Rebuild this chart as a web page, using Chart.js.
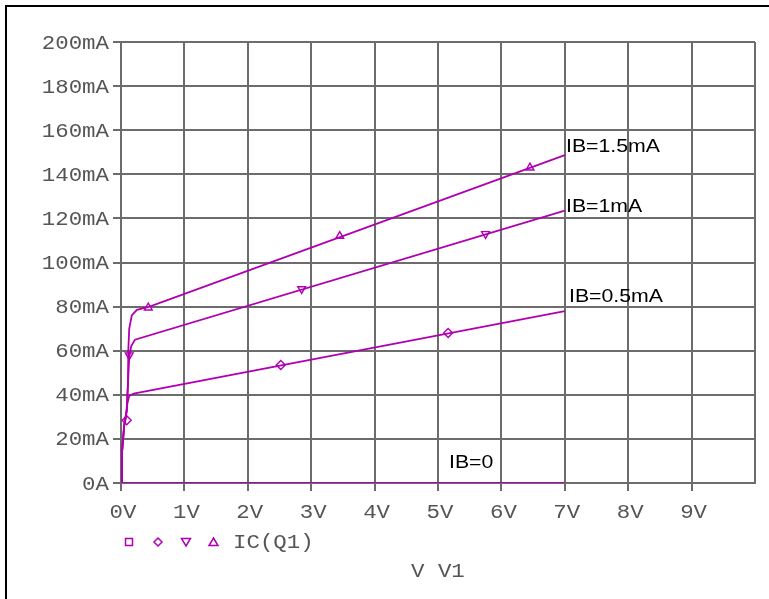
<!DOCTYPE html>
<html>
<head>
<meta charset="utf-8">
<script src="https://cdn.jsdelivr.net/npm/chart.js@4.4.1/dist/chart.umd.min.js"></script>
<style>
  html, body { margin: 0; padding: 0; background: #ffffff; }
  #wrap { position: relative; width: 769px; height: 599px; }
  canvas { display: block; }
</style>
</head>
<body>
<div id="wrap"><canvas id="c" width="769" height="599"></canvas></div>
<script>
// ---- data (volts, mA) ----
const xTickLabels = ['0V','1V','2V','3V','4V','5V','6V','7V','8V','9V'];
const yTickLabels = ['0A','20mA','40mA','60mA','80mA','100mA','120mA','140mA','160mA','180mA','200mA'];

const ib0_V   = [0, 7];
const ib0_I   = [0, 0];

const ib05_V  = [0, 0.015, 0.05, 0.08, 0.1, 0.13, 0.2, 7];
const ib05_I  = [0, 13.5, 26, 30, 36, 39.5, 40.5, 78];

const ib1_V   = [0, 0.015, 0.05, 0.09, 0.11, 0.13, 0.16, 0.22, 7];
const ib1_I   = [0, 13.5, 26, 33, 45, 57, 62, 65, 123.5];

const ib15_V  = [0, 0.015, 0.05, 0.09, 0.11, 0.115, 0.13, 0.17, 0.25, 0.45, 7];
const ib15_I  = [0, 13.5, 26, 33, 45, 60, 70, 76, 78.5, 80, 148.7];

// marker positions along each curve
const mk05_V = [0.09, 2.52, 5.16];
const mk05_I = [28.5, 53.5, 68];
const mk1_V  = [0.13, 2.85, 5.75];
const mk1_I  = [58, 88, 113];
const mk15_V = [0.43, 3.45, 6.45];
const mk15_I = [79.5, 112, 143];

const curveLabels = [
  { text: 'IB=1.5mA', x: 566, y: 152 },
  { text: 'IB=1mA',   x: 566, y: 212 },
  { text: 'IB=0.5mA', x: 569, y: 302 },
  { text: 'IB=0',     x: 449, y: 468 }
];

const MAG = '#b000b0';
const GRID = '#6c6c6c';
const TXT = '#555555';
const MONO = '20px "Liberation Mono", "Courier New", monospace';
const SX_MONO = 1.12;
const SANS = '18.5px "Liberation Sans", Arial, sans-serif';
const SX_SANS = 1.15;

function pts(xs, ys) { return xs.map((x, i) => ({ x: x, y: ys[i] })); }

function lineDs(xs, ys) {
  return { data: pts(xs, ys), borderColor: MAG, borderWidth: 1.8, pointRadius: 0,
           showLine: true, fill: false, tension: 0 };
}
function markDs(xs, ys, style, rot) {
  return { data: pts(xs, ys), showLine: false, pointStyle: style, rotation: rot,
           pointRadius: 4.5, pointBorderColor: MAG, pointBackgroundColor: '#ffffff',
           pointBorderWidth: 1.4, pointHoverRadius: 4.5 };
}

function stretchText(ctx, text, x, y, sx, align) {
  ctx.save();
  ctx.translate(x, y);
  ctx.scale(sx, 1);
  ctx.textAlign = align;
  ctx.fillText(text, 0, 0);
  ctx.restore();
}

const decor = {
  id: 'decor',
  afterDraw(chart) {
    const ctx = chart.ctx;
    const xs = chart.scales.x, ys = chart.scales.y;
    ctx.save();
    // outer frame (top and left)
    ctx.fillStyle = '#000000';
    ctx.fillRect(5, 5, 764, 2);
    ctx.fillRect(5, 5, 2, 594);

    // tick labels
    ctx.fillStyle = TXT;
    ctx.font = MONO;
    ctx.textBaseline = 'alphabetic';
    yTickLabels.forEach((t, i) => {
      const py = ys.getPixelForValue(i * 20);
      stretchText(ctx, t, 109, py + 6.5, SX_MONO, 'right');
    });
    xTickLabels.forEach((t, i) => {
      const px = xs.getPixelForValue(i);
      stretchText(ctx, t, px + 2, 518, SX_MONO, 'center');
    });

    // legend row
    const ly = 542;
    ctx.strokeStyle = MAG;
    ctx.lineWidth = 1.5;
    ctx.strokeRect(125.5, ly - 3.5, 7, 7);
    ctx.beginPath();
    ctx.moveTo(158, ly - 4); ctx.lineTo(162, ly); ctx.lineTo(158, ly + 4); ctx.lineTo(154, ly); ctx.closePath();
    ctx.stroke();
    ctx.beginPath();
    ctx.moveTo(181.5, ly - 3.5); ctx.lineTo(190.5, ly - 3.5); ctx.lineTo(186, ly + 4); ctx.closePath();
    ctx.stroke();
    ctx.beginPath();
    ctx.moveTo(213.5, ly - 4); ctx.lineTo(218, ly + 3.5); ctx.lineTo(209, ly + 3.5); ctx.closePath();
    ctx.stroke();
    ctx.fillStyle = TXT;
    stretchText(ctx, 'IC(Q1)', 233, 548, SX_MONO, 'left');
    stretchText(ctx, 'V V1', 411, 577, SX_MONO, 'left');

    // curve labels
    ctx.fillStyle = '#000000';
    ctx.font = SANS;
    curveLabels.forEach(l => stretchText(ctx, l.text, l.x, l.y, SX_SANS, 'left'));
    ctx.restore();
  }
};

new Chart(document.getElementById('c'), {
  type: 'scatter',
  data: {
    datasets: [
      lineDs(ib0_V, ib0_I),
      lineDs(ib05_V, ib05_I),
      lineDs(ib1_V, ib1_I),
      lineDs(ib15_V, ib15_I),
      markDs(mk05_V, mk05_I, 'rectRot', 0),
      markDs(mk1_V, mk1_I, 'triangle', 180),
      markDs(mk15_V, mk15_I, 'triangle', 0)
    ]
  },
  options: {
    responsive: false,
    animation: false,
    events: [],
    layout: { padding: { left: 0, top: 42, right: 14, bottom: 0 } },
    plugins: { legend: { display: false }, tooltip: { enabled: false } },
    scales: {
      x: {
        type: 'linear', min: 0, max: 10,
        ticks: { display: false, stepSize: 1 },
        grid: {
          color: GRID, lineWidth: 2, drawTicks: true, tickLength: 8,
          tickColor: (c) => (c.tick && c.tick.value === 10) ? 'rgba(0,0,0,0)' : GRID,
          tickWidth: 2
        },
        border: { display: true, color: GRID, width: 2 },
        afterFit(s) { s.height = 116; }
      },
      y: {
        type: 'linear', min: 0, max: 200,
        ticks: { display: false, stepSize: 20 },
        grid: { color: GRID, lineWidth: 2, drawTicks: true, tickLength: 8, tickColor: GRID, tickWidth: 2 },
        border: { display: true, color: GRID, width: 2 },
        afterFit(s) { s.width = 121; }
      }
    }
  },
  plugins: [decor]
});
</script>
</body>
</html>
